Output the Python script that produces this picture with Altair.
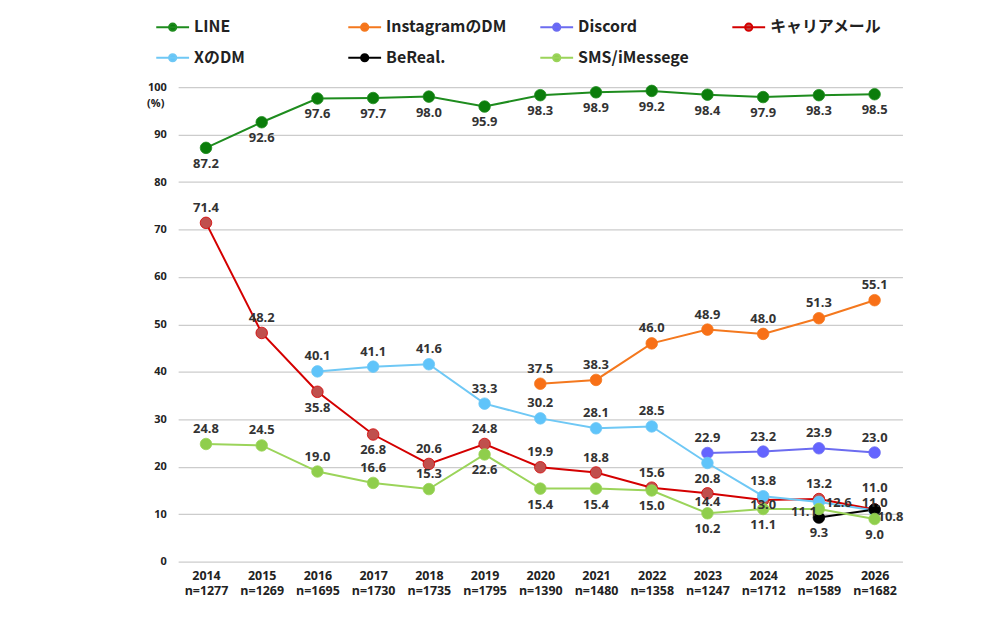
import altair as alt
import pandas as pd

# ---------------- data ----------------
years = [2014, 2015, 2016, 2017, 2018, 2019, 2020, 2021, 2022, 2023, 2024, 2025, 2026]
n_sizes = [1277, 1269, 1695, 1730, 1735, 1795, 1390, 1480, 1358, 1247, 1712, 1589, 1682]

series_names = ["LINE", "InstagramのDM", "Discord", "キャリアメール", "XのDM", "BeReal.", "SMS/iMessege"]

line_vals = [87.2, 92.6, 97.6, 97.7, 98.0, 95.9, 98.3, 98.9, 99.2, 98.4, 97.9, 98.3, 98.5]
insta_vals = [None, None, None, None, None, None, 37.5, 38.3, 46.0, 48.9, 48.0, 51.3, 55.1]
discord_vals = [None, None, None, None, None, None, None, None, None, 22.9, 23.2, 23.9, 23.0]
carrier_vals = [71.4, 48.2, 35.8, 26.8, 20.6, 24.8, 19.9, 18.8, 15.6, 14.4, 13.0, 13.2, 11.0]
xdm_vals = [None, None, 40.1, 41.1, 41.6, 33.3, 30.2, 28.1, 28.5, 20.8, 13.8, 12.6, 10.8]
bereal_vals = [None, None, None, None, None, None, None, None, None, None, None, 9.3, 11.0]
sms_vals = [24.8, 24.5, 19.0, 16.6, 15.3, 22.6, 15.4, 15.4, 15.0, 10.2, 11.1, 11.1, 9.0]

# ---------------- styles ----------------
line_colors = ["#1e8c1e", "#f4781e", "#6c6cf0", "#d40000", "#6fc8f5", "#000000", "#9bd45a"]
marker_colors = ["#0b7d0b", "#f87017", "#6464ff", "#c0504d", "#5fc4fa", "#000000", "#8fce4c"]

# label placement codes (style only): a=above, b=below, r=right, l=left
place = {
    "LINE": ["b"] * 13,
    "InstagramのDM": ["a"] * 13,
    "Discord": ["a"] * 13,
    "キャリアメール": ["a", "a", "b", "b", "a", "a", "a", "a", "a", "b2", "b1", "a", "a2"],
    "XのDM": ["a", "a", "a", "a", "a", "a", "a", "a", "a", "b", "a", "r", "r2"],
    "BeReal.": ["a"] * 11 + ["b", "a1"],
    "SMS/iMessege": ["a", "a", "a", "a", "a", "b", "b", "b", "b", "b", "b", "l", "b"],
}
offsets = {
    "a": (0, -15), "b": (0, 16), "b2": (0, 9), "b1": (0, 5),
    "a2": (0, -22), "a1": (0, -7), "r": (20, 1), "r2": (16, 7), "l": (-15, 3),
}

values = {
    "LINE": line_vals, "InstagramのDM": insta_vals, "Discord": discord_vals,
    "キャリアメール": carrier_vals, "XのDM": xdm_vals, "BeReal.": bereal_vals,
    "SMS/iMessege": sms_vals,
}

rows = []
for s in series_names:
    for i, (yr, v) in enumerate(zip(years, values[s])):
        if v is None:
            continue
        rows.append({"xlab": f"{yr}\nn={n_sizes[i]}", "series": s, "value": v, "pos": place[s][i]})
df = pd.DataFrame(rows)

NUM_FONT = "Open Sans, Noto Sans CJK JP"
LEG_FONT = "Noto Sans CJK JP"

x_enc = alt.X(
    "xlab:O",
    scale=alt.Scale(type="point", padding=0.5),
    axis=alt.Axis(
        title=None, labelAngle=0, ticks=False, domain=False,
        labelExpr="split(datum.label, '\\n')",
        labelFont=NUM_FONT, labelFontSize=12.5, labelFontWeight="bold",
        labelColor="#222222", labelPadding=8, labelLineHeight=15,
    ),
)
y_enc = alt.Y(
    "value:Q",
    scale=alt.Scale(domain=[0, 100], nice=False),
    axis=alt.Axis(
        values=list(range(0, 101, 10)), title="(%)", titleAngle=0,
        titleX=-23, titleY=16, titleAlign="center", titleBaseline="middle",
        titleFont=NUM_FONT, titleFontSize=11, titleFontWeight="bold", titleColor="#222222",
        grid=True, gridColor="#cccccc", gridWidth=1.2, domain=False, ticks=False,
        labelFont=NUM_FONT, labelFontSize=11, labelFontWeight="bold",
        labelColor="#222222", labelPadding=12,
    ),
)

sym_path = "M-1,0H1M0.22,0A0.22,0.22 0 1 1 -0.22,0A0.22,0.22 0 1 1 0.22,0"


def make_legend():
    return alt.Legend(
        title=None, orient="none", legendX=-23, legendY=-78, columns=4,
        direction="horizontal",
        symbolType=sym_path, symbolSize=1089, symbolStrokeWidth=2,
        labelFont=LEG_FONT, labelFontSize=16, labelFontWeight="bold", labelColor="#222222",
        labelOffset=4, labelLimit=300, columnPadding=30, rowPadding=5, gridAlign="all",
        padding=0, symbolOpacity=1,
    )


stroke_scale = alt.Scale(domain=series_names, range=line_colors)
fill_scale = alt.Scale(domain=series_names, range=marker_colors)

base = alt.Chart(df)

lines = base.mark_line(strokeWidth=2).encode(
    x=x_enc, y=y_enc,
    stroke=alt.Stroke("series:N", scale=stroke_scale, legend=make_legend()),
)

points = base.mark_point(filled=True, size=135, opacity=1, strokeWidth=0.8).encode(
    x=x_enc, y=y_enc,
    fill=alt.Fill("series:N", scale=fill_scale, legend=make_legend()),
    stroke=alt.Stroke("series:N", scale=stroke_scale, legend=make_legend()),
)

label_layers = []
for code, (dx, dy) in offsets.items():
    label_layers.append(
        base.transform_filter(alt.datum.pos == code)
        .mark_text(font=NUM_FONT, fontSize=13, fontWeight="bold", color="#333333", dx=dx, dy=dy)
        .encode(x=x_enc, y=y_enc, text=alt.Text("value:Q", format=".1f"))
    )

chart = (
    alt.layer(lines, points, *label_layers)
    .properties(
        width=728, height=477,
        padding={"left": 171, "top": 78, "right": 90, "bottom": 40},
        autosize=alt.AutoSizeParams(type="none"),
        background="white",
    )
    .configure_view(stroke=None)
)

chart.save("out.html", embed_options={"renderer": "svg", "actions": False})
